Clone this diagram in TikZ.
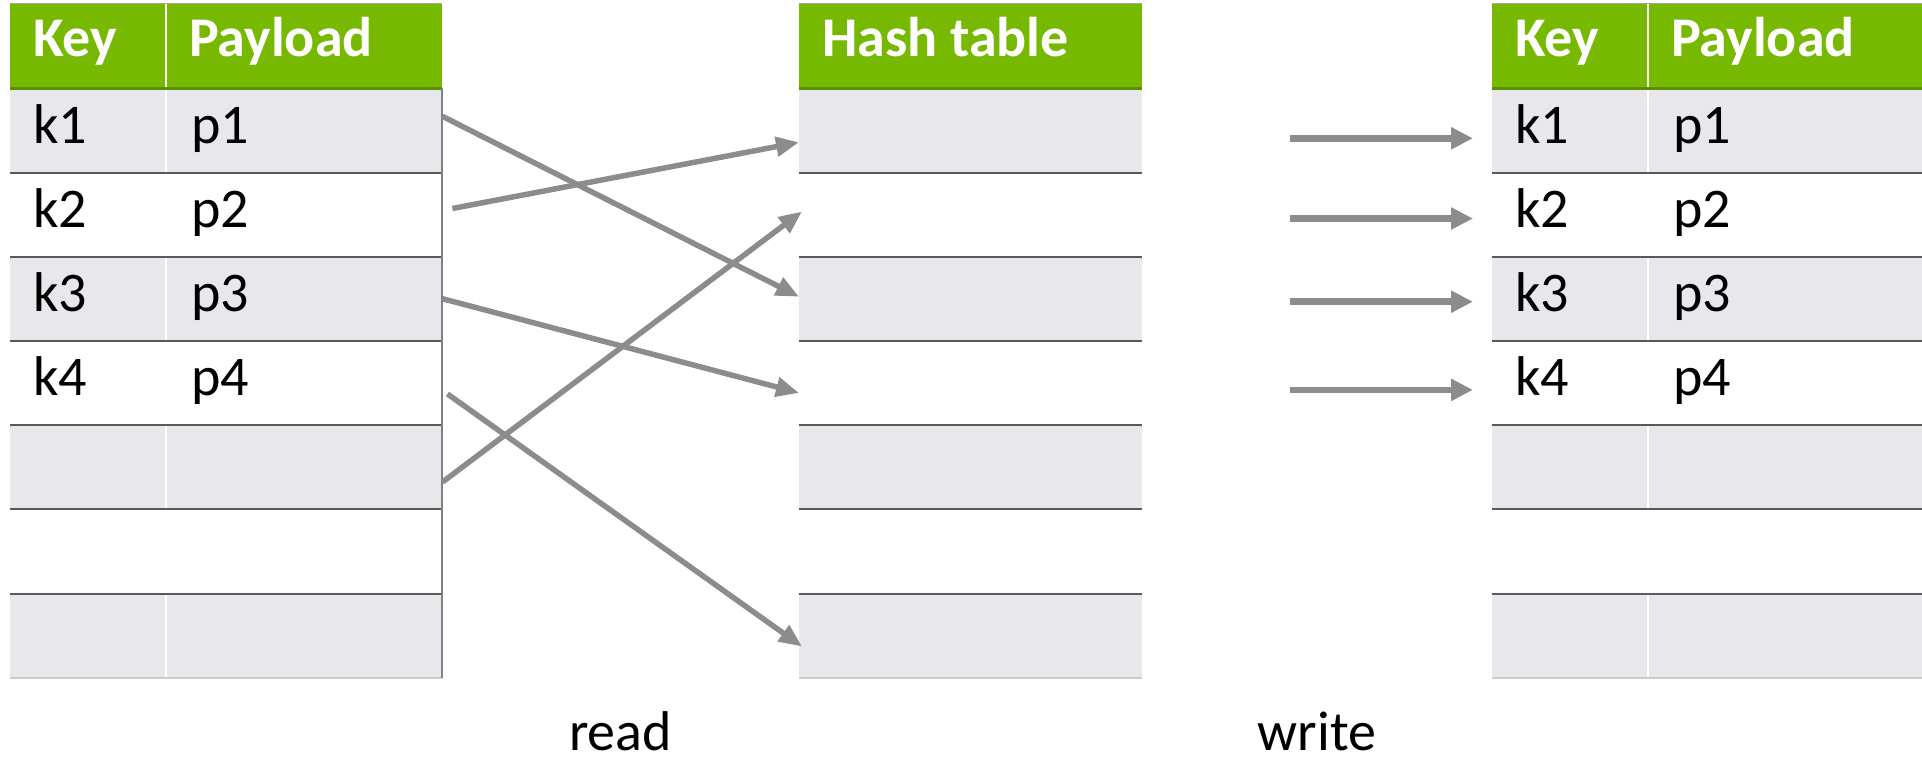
\documentclass[tikz,border=0pt]{standalone}
\usepackage{fontspec}
\setmainfont{Carlito}
\usetikzlibrary{arrows.meta}
\definecolor{nvgreen}{HTML}{76B900}
\definecolor{nvdark}{HTML}{5A8F00}
\definecolor{rowgray}{HTML}{E8E7EC}
\definecolor{rulegray}{HTML}{595959}
\definecolor{edgegray}{HTML}{808080}
\definecolor{arrgray}{HTML}{8C8C8C}

\begin{document}
\begin{tikzpicture}[x=1pt, y=-1pt,
    hdr/.style={anchor=north west, inner sep=0pt, fill=nvgreen, minimum height=84pt},
    band/.style={anchor=north west, inner sep=0pt, minimum height=84.2pt},
    head/.style={anchor=base west, inner sep=0pt, text=white, font=\fontsize{56}{60}\selectfont\bfseries},
    entry/.style={anchor=base west, inner sep=0pt, font=\fontsize{56}{60}\selectfont},
    rd/.style={draw=arrgray, line width=5.5pt, -{Triangle[length=23pt, width=19pt]}},
    wr/.style={draw=arrgray, line width=6.5pt, -{Triangle[length=22pt, width=21pt]}}]
  \useasboundingbox (0,0) rectangle (1922,765);

  % the three tables: header plus seven rows each
  \foreach \t/\x/\w in {L/10/432, H/799/343, R/1492/432} {
    \node[hdr, minimum width=\w pt] (\t0) at (\x,4) {};
    \foreach \i in {1,...,7} {
      \pgfmathsetmacro\top{88+(\i-1)*84.2}
      \ifodd\i
        \node[band, fill=rowgray, minimum width=\w pt] (\t\i) at (\x,\top) {};
      \else
        \node[band, minimum width=\w pt] (\t\i) at (\x,\top) {};
      \fi
    }
  }
  % column dividers
  \foreach \t in {L, R}
    \draw[white, line width=1.5pt] ([xshift=156pt]\t0.north west) -- ([xshift=156pt]\t7.south west);
  % rules
  \foreach \t in {L, H, R} {
    \draw[gray!70, line width=1pt] (\t0.north west) -- (\t0.north east);
    \draw[nvdark, line width=3pt] (\t0.south west) -- (\t0.south east);
    \foreach \i in {1,...,6}
      \draw[rulegray, line width=2pt] (\t\i.south west) -- (\t\i.south east);
    \draw[gray!40, line width=2pt] (\t7.south west) -- (\t7.south east);
  }
  \draw[edgegray, line width=2pt] (L1.north east) -- (L7.south east);

  % headings
  \node[head] (Lkey) at (33,57) {Key};
  \node[head] (Lpay) at (189,57) {Payload};
  \node[head] (Hname) at (822,57) {Hash table};
  \node[head] (Rkey) at (1515,57) {Key};
  \node[head] (Rpay) at (1671,57) {Payload};

  % entries
  \foreach \i in {1,...,4} {
    \pgfmathsetmacro\base{143+(\i-1)*84.2}
    \node[entry] (Lk\i) at (33,\base) {k\i};
    \node[entry] (Lp\i) at (191,\base) {p\i};
    \node[entry] (Rk\i) at (1515,\base) {k\i};
    \node[entry] (Rp\i) at (1673,\base) {p\i};
  }

  % read: rows into hash slots
  \draw[rd] ([yshift=14pt]L1.east) -- ([yshift=2pt]H3.west);
  \draw[rd] ([xshift=10pt,yshift=6pt]L2.east) -- ([yshift=-12pt]H1.west);
  \draw[rd] (L3.east) -- ([yshift=-10pt]H4.west);
  \draw[rd] ([xshift=5pt,yshift=-11pt]L4.east) -- ([xshift=3pt,yshift=-11pt]H7.west);
  \draw[rd] ([yshift=-15pt]L5.east) -- ([xshift=3pt,yshift=3pt]H2.west);

  % write: hash slots out to result rows
  \foreach \i/\dy in {1/-8, 2/-4, 3/-3, 4/-7} {
    \coordinate (w\i) at ([xshift=-202pt,yshift=\dy pt]R\i.west);
    \draw[wr] (w\i) -- ([xshift=-19pt,yshift=\dy pt]R\i.west);
  }

  \node[entry, anchor=base] (read) at (620.5,750) {read};
  \node[entry, anchor=base] (write) at (1317,750) {write};
\end{tikzpicture}
\end{document}
